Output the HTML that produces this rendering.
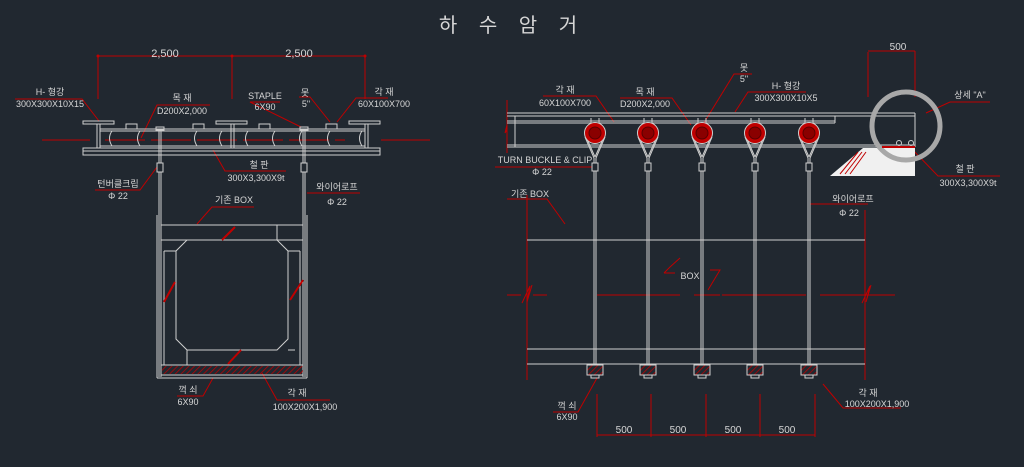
<!DOCTYPE html>
<html><head><meta charset="utf-8"><style>
html,body{margin:0;padding:0;background:#212830;}
svg{display:block}
text{font-family:"Liberation Sans","Noto Sans CJK KR",sans-serif;fill:#d6d6d6;font-size:9px}
</style></head><body>
<svg width="1024" height="467" viewBox="0 0 1024 467" xmlns="http://www.w3.org/2000/svg">
<rect width="1024" height="467" fill="#212830"/>
<text x="512" y="32" text-anchor="middle" letter-spacing="8" style="font-size:20px">하 수 암 거</text>

<!-- LEFT DRAWING -->
<g stroke="#c00000" stroke-width="1" fill="none">
<line x1="98" y1="56" x2="365" y2="56"/>
<line x1="98" y1="56" x2="98" y2="99"/><line x1="232" y1="56" x2="232" y2="99"/><line x1="365" y1="56" x2="365" y2="99"/>
<line x1="42" y1="140" x2="90" y2="140"/><line x1="105" y1="140" x2="345" y2="140" stroke-dasharray="40,6"/><line x1="381" y1="140" x2="430" y2="140"/>
<polyline points="15,99 82,99 99,121"/>
<polyline points="210,105 157,105 141,138"/>
<polyline points="280,102 250,102 301,127"/>
<polyline points="299,97 310,97 330,122"/>
<polyline points="388,98 356,98 337,122"/>
<polyline points="286,171 225,171 213,150"/>
<polyline points="95,190 140,190 157,167"/>
<polyline points="360,193 307,193"/>
<polyline points="254,207 212,207 197,224"/>
<polyline points="177,396 203,396 213,378"/>
<polyline points="330,400 277,400 262,373"/>
</g>
<g fill="#c00000"><circle cx="98" cy="56" r="1.5"/><circle cx="232" cy="56" r="1.5"/><circle cx="365" cy="56" r="1.5"/></g>
<g stroke="#cfcfcf" stroke-width="1" fill="none">
<rect x="83" y="121" width="31" height="3"/><rect x="216" y="121" width="31" height="3"/><rect x="349" y="121" width="31" height="3"/>
<line x1="97" y1="124" x2="97" y2="148"/><line x1="100" y1="124" x2="100" y2="148"/>
<line x1="231" y1="124" x2="231" y2="148"/><line x1="234" y1="124" x2="234" y2="148"/>
<line x1="365" y1="124" x2="365" y2="148"/><line x1="368" y1="124" x2="368" y2="148"/>
<line x1="100" y1="129" x2="365" y2="129"/><line x1="100" y1="131" x2="365" y2="131"/><line x1="100" y1="146" x2="365" y2="146"/>
<rect x="83" y="148" width="297" height="7"/><line x1="83" y1="151" x2="380" y2="151"/>
<rect x="126" y="124" width="11" height="5"/><rect x="193" y="124" width="11" height="5"/><rect x="259" y="124" width="11" height="5"/><rect x="326" y="124" width="11" height="5"/>
<rect x="156" y="127" width="8" height="3"/><rect x="300" y="127" width="8" height="3"/>
<path d="M112,131 q-5,7 0,15 M140,131 q-5,7 0,15 M197,131 q-5,7 0,15 M222,131 q-5,7 0,15 M248,131 q-5,7 0,15 M275,131 q-5,7 0,15 M302,131 q-5,7 0,15 M330,131 q-5,7 0,15 M362,131 q-5,7 0,15"/>
<line x1="159" y1="130" x2="159" y2="377"/><line x1="161" y1="130" x2="161" y2="377"/>
<line x1="303" y1="130" x2="303" y2="377"/><line x1="305" y1="130" x2="305" y2="377"/>
<rect x="157" y="163" width="6" height="9" fill="#212830"/><rect x="301" y="163" width="6" height="9" fill="#212830"/>
<line x1="157" y1="215" x2="157" y2="378"/><line x1="307" y1="215" x2="307" y2="378"/><line x1="157" y1="378" x2="307" y2="378"/>
<line x1="161" y1="225" x2="303" y2="225"/>
<line x1="161" y1="240" x2="303" y2="240"/><line x1="277" y1="225" x2="277" y2="240"/>
<line x1="164" y1="251" x2="164" y2="365"/><line x1="164" y1="251" x2="176" y2="251"/>
<line x1="300" y1="251" x2="300" y2="365"/><line x1="288" y1="251" x2="300" y2="251"/>
<polygon points="187,240 277,240 288,251 288,339 277,350 187,350 176,339 176,251"/>
<line x1="187" y1="350" x2="187" y2="365"/><line x1="288" y1="350" x2="295" y2="350"/>
<line x1="161" y1="365" x2="303" y2="365"/><line x1="161" y1="375" x2="303" y2="375"/>
</g>
<defs><pattern id="h" width="4" height="4" patternUnits="userSpaceOnUse" patternTransform="rotate(45)"><line x1="0" y1="0" x2="0" y2="4" stroke="#c00000" stroke-width="1.5"/></pattern></defs>
<rect x="162" y="366" width="141" height="8" fill="url(#h)"/>
<g stroke="#c00000" stroke-width="2"><line x1="222" y1="240" x2="235" y2="227"/><line x1="164" y1="302" x2="175" y2="282"/><line x1="290" y1="300" x2="303" y2="280"/><line x1="228" y1="364" x2="241" y2="350"/></g>
<text x="165" y="57" text-anchor="middle" style="font-size:11px">2,500</text>
<text x="299" y="57" text-anchor="middle" style="font-size:11px">2,500</text>
<text x="50" y="95" text-anchor="middle">H- 형강</text><text x="50" y="107" text-anchor="middle">300X300X10X15</text>
<text x="182" y="101" text-anchor="middle">목 재</text><text x="182" y="114" text-anchor="middle">D200X2,000</text>
<text x="265" y="99" text-anchor="middle">STAPLE</text><text x="265" y="110" text-anchor="middle">6X90</text>
<text x="305" y="96" text-anchor="middle">못</text><text x="306" y="107" text-anchor="middle">5"</text>
<text x="384" y="95" text-anchor="middle">각 재</text><text x="384" y="107" text-anchor="middle">60X100X700</text>
<text x="259" y="168" text-anchor="middle">철 판</text><text x="256" y="181" text-anchor="middle">300X3,300X9t</text>
<text x="118" y="187" text-anchor="middle">턴버클크립</text><text x="118" y="199" text-anchor="middle">Φ 22</text>
<text x="337" y="190" text-anchor="middle">와이어로프</text><text x="337" y="205" text-anchor="middle">Φ 22</text>
<text x="234" y="203" text-anchor="middle">기존 BOX</text>
<text x="188" y="393" text-anchor="middle">꺽 쇠</text><text x="188" y="405" text-anchor="middle">6X90</text>
<text x="297" y="396" text-anchor="middle">각 재</text><text x="305" y="410" text-anchor="middle">100X200X1,900</text>

<!-- RIGHT DRAWING -->
<g stroke="#c00000" stroke-width="1" fill="none">
<line x1="868" y1="52" x2="868" y2="97"/><line x1="915" y1="51" x2="915" y2="97"/><line x1="868" y1="51" x2="915" y2="51"/>
<line x1="507" y1="100" x2="507" y2="153"/><polyline points="507,125 505,133 507,130"/>
<line x1="507" y1="295" x2="555" y2="295" stroke-dasharray="14,12"/><line x1="597" y1="295" x2="680" y2="295"/><line x1="694" y1="295" x2="720" y2="295"/><line x1="722" y1="295" x2="806" y2="295"/><line x1="820" y1="295" x2="895" y2="295"/>
<polyline points="522,303 530,286 527,302 532,285"/><polyline points="862,303 870,286 866,302 871,285"/>
<line x1="527" y1="195" x2="527" y2="380"/><line x1="865" y1="210" x2="865" y2="380"/>
<polyline points="664,273 670,267 680,258"/><line x1="664" y1="273" x2="675" y2="273"/>
<polyline points="710,270 720,270 708,290"/>
<polyline points="543,96 596,96 614,122"/>
<polyline points="620,98 672,98 691,125"/>
<polyline points="752,74 734,74 702,126"/>
<polyline points="806,92 748,92 735,112"/>
<polyline points="990,102 950,102 926,113"/>
<polyline points="1000,176 938,176 910,147"/>
<polyline points="495,167 592,167"/>
<polyline points="507,199 547,199 565,224"/>
<polyline points="868,204 810,204"/>
<polyline points="553,412 578,412 597,378"/>
<polyline points="901,408 843,408 823,384"/>
<line x1="597" y1="394" x2="597" y2="437"/><line x1="651" y1="394" x2="651" y2="437"/><line x1="706" y1="394" x2="706" y2="437"/><line x1="760" y1="394" x2="760" y2="437"/><line x1="815" y1="394" x2="815" y2="437"/>
<line x1="597" y1="435" x2="815" y2="435"/>
</g>
<polygon points="830,176 863,148 915,148 915,176" fill="#f0f0f0"/>
<g stroke="#c00000" stroke-width="1"><line x1="840" y1="174" x2="858" y2="152"/><line x1="845" y1="174" x2="862" y2="152"/><line x1="850" y1="174" x2="866" y2="152"/></g>
<g stroke="#cfcfcf" stroke-width="1" fill="none">
<line x1="507" y1="113" x2="915" y2="113"/><line x1="507" y1="116" x2="915" y2="116"/>
<line x1="507" y1="121" x2="835" y2="121"/><line x1="507" y1="123" x2="835" y2="123"/><line x1="835" y1="116" x2="835" y2="123"/>
<line x1="507" y1="145" x2="915" y2="145"/><line x1="507" y1="147" x2="915" y2="147"/>
<line x1="515" y1="116" x2="515" y2="147"/><line x1="915" y1="113" x2="915" y2="147"/>
<line x1="527" y1="240" x2="865" y2="240"/><line x1="527" y1="349" x2="865" y2="349"/><line x1="527" y1="364" x2="865" y2="364"/>
</g>
<g id="eyes">
<g transform="translate(595,0)">
<g stroke="#cfcfcf" fill="none">
<line x1="-10" y1="137" x2="-1" y2="158"/><line x1="10" y1="137" x2="1" y2="158"/>
<line x1="-8" y1="139" x2="0" y2="157"/><line x1="8" y1="139" x2="0" y2="157"/>
<line x1="-1" y1="158" x2="-1" y2="163"/><line x1="1" y1="158" x2="1" y2="163"/>
</g>
<circle cx="0" cy="133" r="10.5" fill="#c00000" stroke="#cfcfcf"/><circle cx="0" cy="133" r="6" fill="#8a0000" stroke="#5a0000"/>
<line x1="-4" y1="123" x2="-4" y2="118" stroke="#cfcfcf"/><line x1="4" y1="123" x2="4" y2="118" stroke="#cfcfcf"/>
<rect x="-3" y="163" width="6" height="8" fill="none" stroke="#cfcfcf"/>
<line x1="-1" y1="171" x2="-1" y2="365" stroke="#cfcfcf"/><line x1="1" y1="171" x2="1" y2="365" stroke="#cfcfcf"/>
<rect x="-8" y="365" width="16" height="10" fill="url(#h)" stroke="#cfcfcf"/><rect x="-4" y="375" width="8" height="3" fill="none" stroke="#cfcfcf"/>
</g></g>
<use href="#eyes" x="53"/><use href="#eyes" x="107"/><use href="#eyes" x="160"/><use href="#eyes" x="214"/>
<circle cx="906" cy="126" r="34" fill="none" stroke="#a8a8a8" stroke-width="5"/>
<g fill="none" stroke="#cfcfcf"><circle cx="899" cy="143" r="2.5"/><circle cx="911" cy="143" r="2.5"/></g>
<line x1="882" y1="147" x2="915" y2="147" stroke="#c00000" stroke-width="2"/>
<text x="898" y="50" text-anchor="middle" style="font-size:10px">500</text>
<text x="970" y="98" text-anchor="middle">상세 "A"</text>
<text x="965" y="172" text-anchor="middle">철 판</text><text x="968" y="186" text-anchor="middle">300X3,300X9t</text>
<text x="565" y="93" text-anchor="middle">각 재</text><text x="565" y="106" text-anchor="middle">60X100X700</text>
<text x="645" y="95" text-anchor="middle">목 재</text><text x="645" y="107" text-anchor="middle">D200X2,000</text>
<text x="744" y="71" text-anchor="middle">못</text><text x="744" y="82" text-anchor="middle">5"</text>
<text x="786" y="89" text-anchor="middle">H- 형강</text><text x="786" y="101" text-anchor="middle">300X300X10X5</text>
<text x="545" y="163" text-anchor="middle">TURN BUCKLE &amp; CLIP</text><text x="542" y="175" text-anchor="middle">Φ 22</text>
<text x="530" y="197" text-anchor="middle">기존 BOX</text>
<text x="853" y="202" text-anchor="middle">와이어로프</text><text x="849" y="216" text-anchor="middle">Φ 22</text>
<text x="690" y="279" text-anchor="middle">BOX</text>
<text x="567" y="409" text-anchor="middle">꺽 쇠</text><text x="567" y="420" text-anchor="middle">6X90</text>
<text x="868" y="396" text-anchor="middle">각 재</text><text x="877" y="407" text-anchor="middle">100X200X1,900</text>
<text x="624" y="433" text-anchor="middle" style="font-size:10px">500</text>
<text x="678" y="433" text-anchor="middle" style="font-size:10px">500</text>
<text x="733" y="433" text-anchor="middle" style="font-size:10px">500</text>
<text x="787" y="433" text-anchor="middle" style="font-size:10px">500</text>
</svg>
</body></html>
